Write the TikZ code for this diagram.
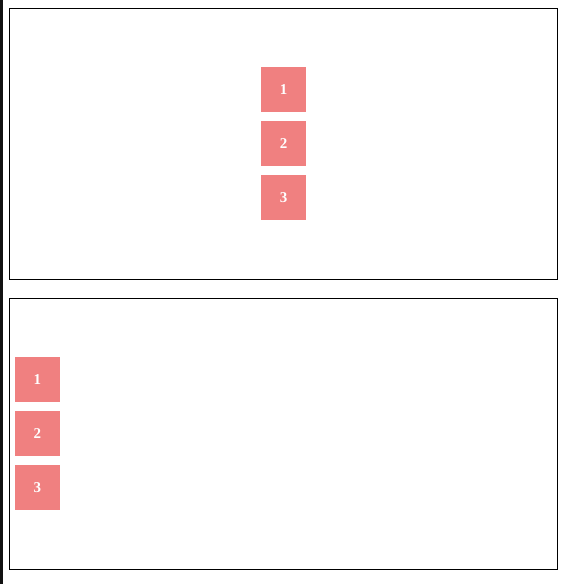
\documentclass[tikz,border=0pt]{standalone}
\usepackage{fontspec}
\setmainfont{Liberation Serif}
\definecolor{sq}{HTML}{F08080}
\definecolor{bar}{HTML}{111111}
\begin{document}
\begin{tikzpicture}[x=1pt,y=-1pt,
  sqbox/.style={fill=sq,minimum width=45pt,minimum height=45pt,inner sep=0pt,text=white,font=\fontsize{15}{15}\selectfont\bfseries},
  frame/.style={draw=black,line width=1pt}]
\useasboundingbox (0,0) rectangle (562,584);
\fill[white] (0,0) rectangle (562,584);
\fill[bar] (0,0) rectangle (2.7,584);
\draw[frame] (9.5,8.5) rectangle (557.5,279.5);
\draw[frame] (9.5,298.5) rectangle (557.5,569.5);
\node[sqbox] (a1) at (283.5,89.5) {1};
\node[sqbox] (a2) at (283.5,143.5) {2};
\node[sqbox] (a3) at (283.5,197.5) {3};
\node[sqbox] (b1) at (37.5,379.5) {1};
\node[sqbox] (b2) at (37.5,433.5) {2};
\node[sqbox] (b3) at (37.5,487.5) {3};
\end{tikzpicture}
\end{document}
